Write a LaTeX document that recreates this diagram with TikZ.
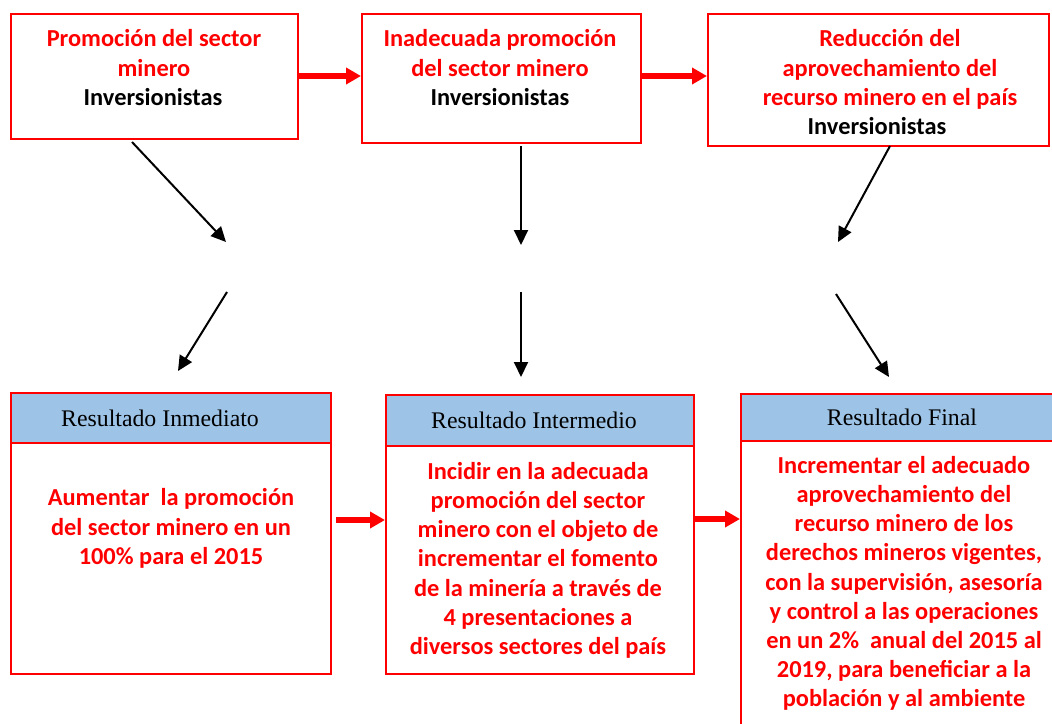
\documentclass[tikz,border=0pt]{standalone}
\usepackage{fontspec}
\setmainfont{Carlito}
\newfontfamily\timesf{Liberation Serif}
\usetikzlibrary{arrows.meta}
\definecolor{hdrblue}{RGB}{157,195,230}
\definecolor{pured}{RGB}{255,0,0}
\begin{document}
\begin{tikzpicture}[x=1pt,y=-1pt,
  box/.style={draw=pured, line width=1.5pt, rectangle, inner sep=0pt, anchor=north west},
  hdr/.style={box, fill=hdrblue},
  rtext/.style={text=pured, font=\fontsize{24.4}{29.2}\selectfont\bfseries, align=center, inner sep=0pt, anchor=north},
  ktext/.style={text=black, font=\fontsize{24.4}{29.2}\selectfont\bfseries, inner sep=0pt, anchor=north},
  htext/.style={font=\timesf\fontsize{23.8}{28}\selectfont, inner sep=0pt},
  redarrow/.style={draw=pured, line width=5.5pt, -{Triangle[length=15pt,width=16pt]}},
  blkarrow/.style={draw=black, line width=2pt, -{Triangle[length=15pt,width=14pt]}}
]
\useasboundingbox (0,0) rectangle (1052,723);

% top boxes
\node[box, minimum width=287pt, minimum height=125pt] (b1) at (10,13) {};
\node[box, minimum width=279pt, minimum height=129pt] (b2) at (361,13) {};
\node[box, minimum width=341pt, minimum height=132pt] (b3) at (707,13) {};

\node[rtext] (t1) at (154,29.5) {Promoción del sector\\minero};
\node[ktext] (k1) at (153,88) {Inversionistas};
\node[rtext] (t2) at (500,29.5) {Inadecuada promoción\\del sector minero};
\node[ktext] (k2) at (500,88) {Inversionistas};
\node[rtext] (t3) at (890,29.5) {Reducción del\\aprovechamiento del\\recurso minero en el país};
\node[ktext] (k3) at (877,117) {Inversionistas};

\draw[redarrow] (b1.east |- 0,76) coordinate (a1s) -- (b2.west |- 0,76);
\draw[redarrow] (b2.east |- 0,76) -- (b3.west |- 0,76);

% bottom boxes
\node[box, minimum width=320pt, minimum height=281pt] (r1) at (10,392) {};
\node[hdr, minimum width=320pt, minimum height=50pt] (h1) at (10,392) {};
\node[htext] (ht1) at (160,418) {Resultado Inmediato};
\node[rtext] (rt1) at (171,488.5) {Aumentar\ \ la promoción\\del sector minero en un\\100\% para el 2015};

\node[box, minimum width=308pt, minimum height=279pt] (r2) at (385,394) {};
\node[hdr, minimum width=308pt, minimum height=51pt] (h2) at (385,394) {};
\node[htext] (ht2) at (534,420) {Resultado Intermedio};
\node[rtext] (rt2) at (538,462) {Incidir en la adecuada\\promoción del sector\\minero con el objeto de\\incrementar el fomento\\de la minería a través de\\4 presentaciones a\\diversos sectores del país};

\node[box, minimum width=328pt, minimum height=380pt] (r3) at (740,393) {};
\node[hdr, minimum width=328pt, minimum height=47pt] (h3) at (740,393) {};
\node[htext] (ht3) at (902,417) {Resultado Final};
\node[rtext] (rt3) at (904,456) {Incrementar el adecuado\\aprovechamiento del\\recurso minero de los\\derechos mineros vigentes,\\con la supervisión, asesoría\\y control a las operaciones\\en un 2\%\ \ anual del 2015 al\\2019, para beneficiar a la\\población y al ambiente};

\draw[redarrow] (336,520) coordinate (c1) -- (r2.west |- c1);
\draw[redarrow] (r2.east |- 0,519) -- (r3.west |- 0,519);

% black arrows
\coordinate (p1a) at (132,142); \coordinate (p1b) at (226,242);
\coordinate (p1c) at (227,292); \coordinate (p1d) at (178,371);
\coordinate (p2a) at (521,146); \coordinate (p2b) at (521,245);
\coordinate (p2c) at (521,292); \coordinate (p2d) at (521,377);
\coordinate (p3a) at (890,146); \coordinate (p3b) at (838,242);
\coordinate (p3c) at (836,294); \coordinate (p3d) at (889,377);
\draw[blkarrow] (p1a) -- (p1b);
\draw[blkarrow] (p1c) -- (p1d);
\draw[blkarrow] (p2a) -- (p2b);
\draw[blkarrow] (p2c) -- (p2d);
\draw[blkarrow] (p3a) -- (p3b);
\draw[blkarrow] (p3c) -- (p3d);
\end{tikzpicture}
\end{document}
